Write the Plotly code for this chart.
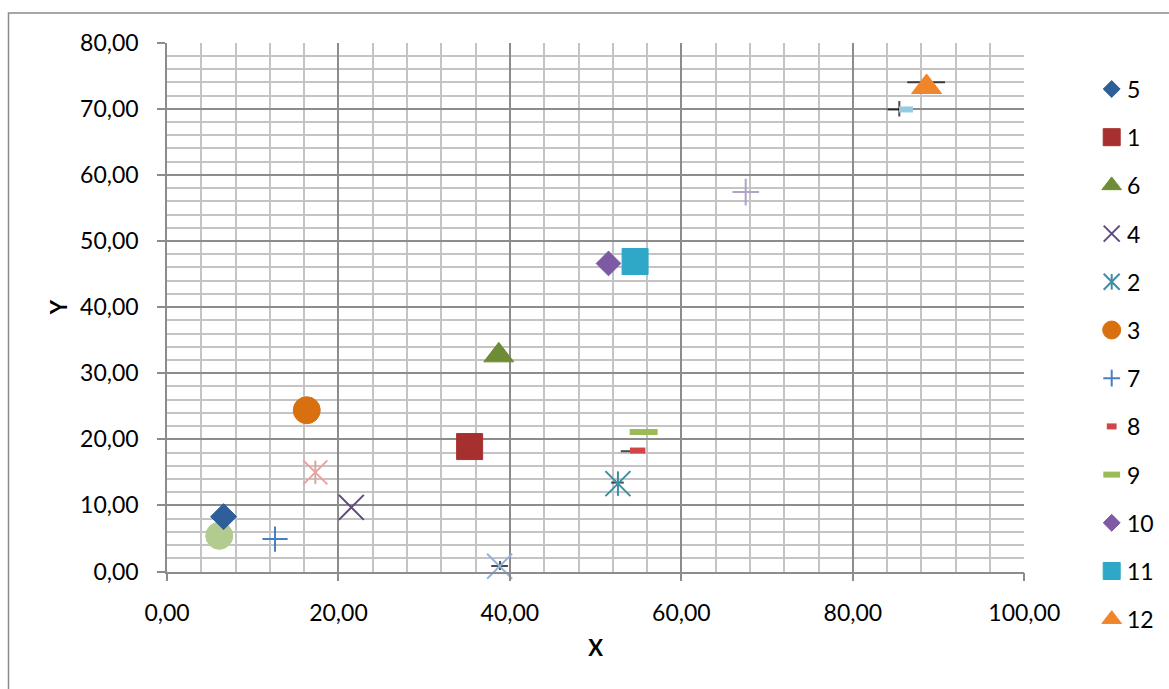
import plotly.graph_objects as go

FONT = "Lato"
W, H = 1169, 689

# Legend series (name, x, y)
names = ["5", "1", "6", "4", "2", "3", "7", "8", "9", "10", "11", "12"]
xs = [6.6, 35.3, 38.7, 21.5, 52.6, 16.3, 12.6, 54.9, 55.6, 51.5, 54.6, 88.6]
ys = [8.3, 18.9, 32.7, 9.7, 13.3, 24.4, 4.9, 18.3, 21.1, 46.6, 46.9, 73.3]
symbols = ["diamond", "square", "triangle-up", "x", "star", "circle",
           "plus", "dash", "dash", "diamond", "square", "triangle-up"]
sizes = [20, 26, 26, 25, 25, 27, 18, 11, 20, 19, 26, 26]
colors = ["#2F5F98", "#A5302E", "#6E8B35", "#604A7B", "#3A8FA6", "#D9700F",
          "#4A7EC0", "#D04545", "#9BBB59", "#7E5AA5", "#2FA8C8", "#F0852A"]
leg_sizes = [13, 17, 17, 16, 16, 18, 12, 7, 12, 13, 17, 17]

# Extra series not shown in legend
ex_x = [17.3, 6.1, 38.8, 67.5, 86.2]
ex_y = [15.0, 5.4, 0.8, 57.4, 69.9]
ex_sym = ["star", "circle", "x", "plus", "dash"]
ex_size = [24, 27, 25, 19, 10]
ex_col = ["#E3A3A2", "#B3CB8F", "#95B3D7", "#B2A2C7", "#93CDDD"]

# Small black marks (horizontal and vertical strokes)
bh_x = [38.8, 52.55, 53.5, 88.55, 84.8]
bh_y = [0.83, 13.45, 18.2, 74.0, 69.9]
bh_size = [12, 9, 7, 27, 9]
bv_x = [38.85, 85.42]
bv_y = [0.9, 70.0]
bv_size = [6.5, 11]

fig = go.Figure()


def add_mark(x, y, kind, size, color, xa="x", ya="y"):
    common = dict(mode="markers", showlegend=False, hoverinfo="skip", xaxis=xa, yaxis=ya,
                  cliponaxis=False)
    if kind == "star":
        fig.add_trace(go.Scatter(x=x, y=y, marker=dict(symbol="x-thin-open", size=size, color=color,
                                                       line=dict(color=color, width=2)), **common))
        fig.add_trace(go.Scatter(x=x, y=y, marker=dict(symbol="line-ns-open", size=size * 0.7, color=color,
                                                       line=dict(color=color, width=2)), **common))
    elif kind == "x":
        fig.add_trace(go.Scatter(x=x, y=y, marker=dict(symbol="x-thin-open", size=size, color=color,
                                                       line=dict(color=color, width=2)), **common))
    elif kind == "plus":
        fig.add_trace(go.Scatter(x=x, y=y, marker=dict(symbol="cross-thin-open", size=size, color=color,
                                                       line=dict(color=color, width=2)), **common))
    elif kind == "dash":
        fig.add_trace(go.Scatter(x=x, y=y, marker=dict(symbol="line-ew-open", size=size, color=color,
                                                       line=dict(color=color, width=6)), **common))
    else:
        fig.add_trace(go.Scatter(x=x, y=y, marker=dict(symbol=kind, size=size, color=color,
                                                       line=dict(color=color, width=1)), **common))


fig.add_trace(go.Scatter(x=bh_x, y=bh_y, mode="markers", showlegend=False, hoverinfo="skip",
                         marker=dict(symbol="line-ew-open", size=bh_size, color="black",
                                     line=dict(color="black", width=2))))
fig.add_trace(go.Scatter(x=bv_x, y=bv_y, mode="markers", showlegend=False, hoverinfo="skip",
                         marker=dict(symbol="line-ns-open", size=bv_size, color="black",
                                     line=dict(color="black", width=2))))

for i in range(len(ex_x)):
    add_mark([ex_x[i]], [ex_y[i]], ex_sym[i], ex_size[i], ex_col[i])

for i in range(len(names)):
    add_mark([xs[i]], [ys[i]], symbols[i], sizes[i], colors[i])

# Manual legend on a helper pixel-space axis
LEG_X0 = 0.92
leg_sym_x = 1111.7
leg_txt_x = 1124.5
leg_y0, leg_dy = 89.0, 48.2
annotations = []
for i in range(len(names)):
    yy = leg_y0 + leg_dy * i
    add_mark([leg_sym_x], [yy], symbols[i], leg_sizes[i], colors[i], xa="x2", ya="y2")
    annotations.append(dict(x=leg_txt_x, y=yy, xref="x2", yref="y2", text=names[i],
                            showarrow=False, xanchor="left", yanchor="middle",
                            font=dict(family=FONT, size=23, color="black")))

grid_major = "#8C8C8C"
grid_minor = "#C4C4C4"

x_dom = [167 / W, 1024.3 / W]
y_dom = [(H - 571.5) / H, (H - 42.7) / H]

fig.update_layout(
    width=W, height=H,
    margin=dict(l=0, r=0, t=0, b=0, autoexpand=False),
    paper_bgcolor="white", plot_bgcolor="white",
    font=dict(family=FONT, size=23, color="black"),
    separators=", ",
    showlegend=False,
    xaxis=dict(domain=x_dom, range=[0, 100], dtick=20, tick0=0, tickformat=".2f",
               automargin=False,
               showgrid=True, gridcolor=grid_major, gridwidth=1.5,
               minor=dict(dtick=4, tick0=0, showgrid=True, gridcolor=grid_minor, gridwidth=2, ticks=""),
               showline=True, linecolor=grid_major, linewidth=1.5,
               ticks="outside", ticklen=8, tickcolor=grid_major, tickwidth=1.5,
               ticklabelstandoff=12, zeroline=False,
               title=dict(text="<b>X</b>", font=dict(family=FONT, size=22), standoff=16)),
    yaxis=dict(domain=y_dom, range=[0, 80], dtick=10, tick0=0, tickformat=".2f",
               automargin=False,
               showgrid=True, gridcolor=grid_major, gridwidth=1.5,
               minor=dict(dtick=2, tick0=0, showgrid=True, gridcolor=grid_minor, gridwidth=2, ticks=""),
               showline=True, linecolor=grid_major, linewidth=1.5,
               ticks="outside", ticklen=8, tickcolor=grid_major, tickwidth=1.5,
               ticklabelstandoff=14, zeroline=False,
               title=dict(text="<b>Y</b>", font=dict(family=FONT, size=22), standoff=6)),
    xaxis2=dict(domain=[LEG_X0, 1], range=[LEG_X0 * W, W], visible=False, anchor="y2",
                automargin=False),
    yaxis2=dict(domain=[0, 1], range=[H, 0], visible=False, anchor="x2", automargin=False),
    annotations=annotations,
    shapes=[dict(type="rect", xref="paper", yref="paper",
                 x0=8.5 / W, x1=1.05, y0=-0.05, y1=(H - 13) / H,
                 line=dict(color="#8A8A8A", width=1.5), fillcolor="rgba(0,0,0,0)", layer="below")],
)

fig.write_html("out.html")
